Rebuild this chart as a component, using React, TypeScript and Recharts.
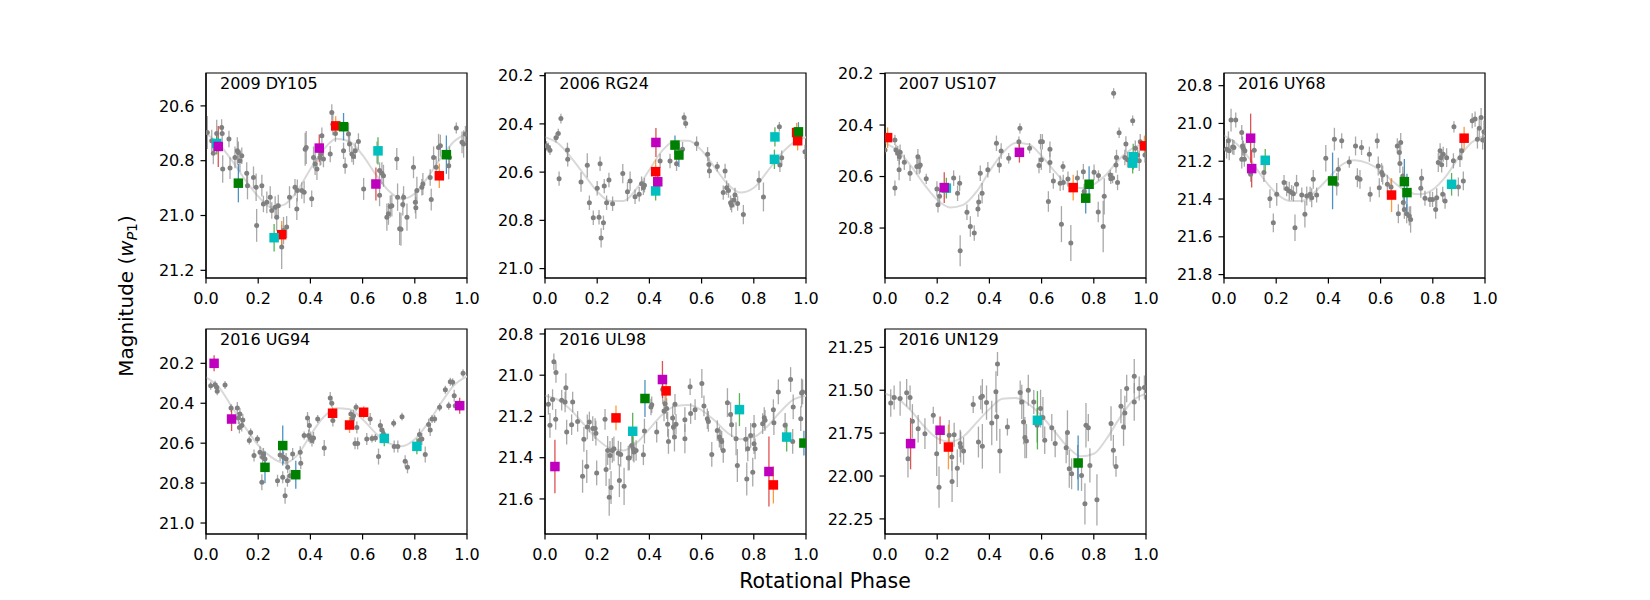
import React from 'react';
import { ComposedChart, Scatter, Line, XAxis, YAxis, ErrorBar, ReferenceArea } from 'recharts';

// [phase, magnitude, error]
type Pt = [number, number, number];
// [phase, magnitude]
type Cv = [number, number];

const PHASE_TICKS = [0, 0.2, 0.4, 0.6, 0.8, 1.0];

// ---------- 2009 DY105 ----------
const dy105Gray: Pt[] = [
  [0.005,20.697,0.06],[0.022,20.727,0.04],[0.028,20.773,0.04],[0.041,20.701,0.05],[0.060,20.679,0.03],[0.064,20.830,0.05],[0.062,20.701,0.03],[0.088,20.721,0.03],[0.092,20.827,0.04],[0.111,20.788,0.04],[0.120,20.764,0.05],[0.124,20.770,0.04],[0.130,20.800,0.04],[0.137,20.782,0.03],[0.156,20.846,0.04],[0.159,20.891,0.05],[0.182,20.861,0.04],[0.192,20.897,0.05],[0.194,21.036,0.06],[0.214,20.891,0.04],[0.220,20.958,0.03],[0.233,20.952,0.04],[0.246,20.933,0.04],[0.252,20.982,0.03],[0.265,20.970,0.04],[0.271,21.006,0.05],[0.277,20.964,0.04],[0.290,21.115,0.08],[0.297,21.055,0.05],[0.309,21.042,0.04],[0.320,20.933,0.04],[0.341,20.897,0.03],[0.348,20.976,0.04],[0.350,20.909,0.04],[0.367,20.909,0.03],[0.376,20.915,0.04],[0.380,20.758,0.06],[0.384,20.752,0.06],[0.405,20.939,0.03],[0.412,20.788,0.04],[0.418,20.812,0.04],[0.425,20.830,0.04],[0.437,20.788,0.03],[0.444,20.709,0.03],[0.440,20.776,0.04],[0.450,20.794,0.03],[0.476,20.776,0.03],[0.482,20.624,0.03],[0.486,20.667,0.04],[0.496,20.701,0.03],[0.527,20.764,0.03],[0.533,20.818,0.03],[0.546,20.703,0.04],[0.550,20.739,0.03],[0.559,20.776,0.03],[0.565,20.785,0.03],[0.572,20.764,0.03],[0.584,20.730,0.03],[0.604,20.903,0.04],[0.655,20.770,0.04],[0.665,20.836,0.03],[0.674,20.846,0.04],[0.665,20.926,0.04],[0.680,20.855,0.04],[0.693,21.006,0.05],[0.699,20.994,0.04],[0.706,20.967,0.04],[0.712,20.964,0.04],[0.731,20.794,0.04],[0.734,20.933,0.05],[0.742,21.048,0.06],[0.747,21.050,0.06],[0.754,20.960,0.04],[0.757,20.933,0.04],[0.770,21.006,0.05],[0.795,20.824,0.04],[0.802,20.952,0.04],[0.804,20.972,0.04],[0.808,20.909,0.05],[0.827,20.897,0.03],[0.831,20.885,0.04],[0.859,20.861,0.03],[0.863,20.942,0.04],[0.872,20.788,0.04],[0.882,20.824,0.04],[0.891,20.752,0.05],[0.898,20.745,0.04],[0.930,20.818,0.05],[0.933,20.788,0.04],[0.959,20.681,0.02],[0.981,20.733,0.04],[0.987,20.739,0.05],[0.994,20.703,0.03],
];
const dy105M: Pt[] = [[0.047,20.748,0.075],[0.434,20.754,0.05],[0.651,20.885,0.06]];
const dy105C: Pt[] = [[0.041,20.737,0.04],[0.261,21.081,0.05],[0.659,20.764,0.05]];
const dy105G: Pt[] = [[0.124,20.882,0.07],[0.527,20.676,0.05],[0.921,20.778,0.07]];
const dy105R: Pt[] = [[0.290,21.070,0.05],[0.497,20.673,0.035],[0.894,20.855,0.045]];
const dy105Fit: Cv[] = [[0,20.70],[0.05,20.74],[0.1,20.80],[0.15,20.87],[0.2,20.93],[0.25,20.97],[0.3,20.96],[0.35,20.91],[0.4,20.83],[0.45,20.76],[0.5,20.72],[0.55,20.73],[0.6,20.78],[0.65,20.85],[0.7,20.91],[0.75,20.94],[0.8,20.92],[0.85,20.86],[0.9,20.79],[0.95,20.73],[1.0,20.70]];

// ---------- 2006 RG24 ----------
const rg24Gray: Pt[] = [
  [0.006,20.491,0.02],[0.013,20.498,0.02],[0.019,20.509,0.02],[0.042,20.457,0.02],[0.051,20.440,0.02],[0.054,20.627,0.03],[0.061,20.378,0.02],[0.086,20.508,0.03],[0.087,20.547,0.03],[0.138,20.641,0.04],[0.162,20.572,0.05],[0.170,20.727,0.03],[0.185,20.789,0.03],[0.200,20.667,0.03],[0.207,20.787,0.03],[0.211,20.565,0.03],[0.215,20.873,0.04],[0.224,20.810,0.03],[0.227,20.658,0.03],[0.236,20.727,0.03],[0.245,20.633,0.03],[0.259,20.731,0.03],[0.298,20.606,0.04],[0.316,20.681,0.04],[0.326,20.637,0.04],[0.345,20.702,0.03],[0.361,20.692,0.03],[0.370,20.648,0.03],[0.377,20.665,0.03],[0.381,20.654,0.03],[0.441,20.554,0.03],[0.479,20.554,0.03],[0.504,20.565,0.03],[0.527,20.505,0.03],[0.533,20.373,0.02],[0.539,20.398,0.02],[0.581,20.482,0.03],[0.623,20.526,0.03],[0.628,20.568,0.03],[0.630,20.595,0.03],[0.660,20.577,0.02],[0.683,20.685,0.03],[0.690,20.595,0.03],[0.696,20.665,0.03],[0.703,20.676,0.03],[0.711,20.727,0.03],[0.715,20.737,0.03],[0.724,20.716,0.03],[0.728,20.695,0.03],[0.738,20.730,0.03],[0.760,20.776,0.04],[0.820,20.634,0.04],[0.837,20.703,0.06],[0.898,20.412,0.02],[0.900,20.570,0.03],[0.907,20.540,0.03],[0.996,20.516,0.03],
];
const rg24M: Pt[] = [[0.425,20.477,0.06],[0.432,20.640,0.05]];
const rg24C: Pt[] = [[0.424,20.678,0.04],[0.881,20.454,0.04],[0.879,20.547,0.04]];
const rg24G: Pt[] = [[0.498,20.488,0.04],[0.513,20.529,0.05],[0.971,20.433,0.04]];
const rg24R: Pt[] = [[0.424,20.598,0.05],[0.964,20.436,0.04],[0.968,20.470,0.04]];
const rg24Fit: Cv[] = [[0,20.455],[0.05,20.48],[0.1,20.54],[0.15,20.61],[0.2,20.68],[0.25,20.72],[0.3,20.72],[0.35,20.67],[0.4,20.59],[0.45,20.51],[0.5,20.47],[0.55,20.47],[0.6,20.51],[0.65,20.58],[0.7,20.65],[0.75,20.685],[0.8,20.665],[0.85,20.60],[0.9,20.53],[0.95,20.48],[1.0,20.455]];

// ---------- 2007 US107 ----------
const us107Gray: Pt[] = [
  [0.000,20.497,0.02],[0.038,20.458,0.02],[0.038,20.645,0.03],[0.042,20.497,0.02],[0.049,20.510,0.03],[0.054,20.574,0.04],[0.055,20.523,0.03],[0.058,20.506,0.03],[0.074,20.545,0.03],[0.096,20.587,0.03],[0.122,20.561,0.03],[0.126,20.523,0.03],[0.131,20.561,0.03],[0.135,20.555,0.03],[0.158,20.609,0.02],[0.199,20.648,0.03],[0.203,20.710,0.03],[0.209,20.677,0.03],[0.263,20.606,0.03],[0.278,20.665,0.03],[0.286,20.626,0.03],[0.288,20.888,0.06],[0.314,20.739,0.03],[0.327,20.794,0.04],[0.342,20.819,0.03],[0.356,20.726,0.03],[0.359,20.699,0.03],[0.365,20.587,0.03],[0.372,20.665,0.04],[0.394,20.574,0.03],[0.427,20.471,0.03],[0.438,20.555,0.03],[0.445,20.501,0.03],[0.474,20.529,0.02],[0.513,20.465,0.02],[0.517,20.413,0.02],[0.554,20.490,0.02],[0.590,20.557,0.03],[0.596,20.465,0.03],[0.603,20.465,0.03],[0.599,20.535,0.04],[0.632,20.494,0.03],[0.632,20.546,0.04],[0.626,20.697,0.04],[0.645,20.617,0.03],[0.671,20.626,0.03],[0.676,20.785,0.07],[0.682,20.561,0.02],[0.683,20.623,0.03],[0.701,20.610,0.03],[0.712,20.858,0.07],[0.737,20.606,0.03],[0.760,20.581,0.03],[0.763,20.658,0.03],[0.801,20.583,0.03],[0.817,20.738,0.04],[0.818,20.596,0.02],[0.836,20.794,0.10],[0.840,20.677,0.07],[0.863,20.594,0.02],[0.865,20.609,0.02],[0.872,20.606,0.02],[0.876,20.277,0.02],[0.885,20.555,0.03],[0.887,20.526,0.03],[0.891,20.623,0.03],[0.897,20.430,0.02],[0.919,20.526,0.03],[0.923,20.474,0.03],[0.929,20.535,0.03],[0.949,20.383,0.02],[0.959,20.490,0.03],[0.968,20.516,0.03],[0.974,20.539,0.04],[0.978,20.465,0.03],[0.996,20.516,0.03],
];
const us107M: Pt[] = [[0.227,20.643,0.06],[0.515,20.506,0.04]];
const us107C: Pt[] = [[0.235,20.645,0.04],[0.951,20.523,0.05],[0.949,20.548,0.04]];
const us107G: Pt[] = [[0.769,20.684,0.06],[0.782,20.630,0.07]];
const us107R: Pt[] = [[0.010,20.449,0.04],[0.721,20.643,0.05],[0.994,20.481,0.04]];
const us107Fit: Cv[] = [[0,20.47],[0.05,20.50],[0.1,20.56],[0.15,20.63],[0.2,20.69],[0.25,20.72],[0.3,20.71],[0.35,20.66],[0.4,20.58],[0.45,20.51],[0.5,20.47],[0.55,20.475],[0.6,20.52],[0.65,20.58],[0.7,20.63],[0.75,20.645],[0.8,20.63],[0.85,20.59],[0.9,20.53],[0.95,20.49],[1.0,20.47]];

// ---------- 2016 UY68 ----------
const uy68Gray: Pt[] = [
  [0.010,21.136,0.05],[0.017,21.092,0.05],[0.020,21.145,0.05],[0.027,20.982,0.06],[0.033,21.124,0.04],[0.038,21.127,0.04],[0.045,20.982,0.04],[0.068,21.048,0.04],[0.068,21.189,0.05],[0.071,21.119,0.05],[0.074,21.131,0.04],[0.080,21.145,0.04],[0.078,21.189,0.04],[0.102,21.269,0.04],[0.116,21.142,0.04],[0.153,21.260,0.05],[0.176,21.398,0.05],[0.189,21.526,0.05],[0.202,21.375,0.06],[0.230,21.313,0.04],[0.240,21.345,0.04],[0.250,21.358,0.05],[0.259,21.366,0.04],[0.266,21.372,0.04],[0.272,21.552,0.07],[0.278,21.322,0.05],[0.298,21.379,0.04],[0.310,21.481,0.07],[0.317,21.384,0.05],[0.330,21.375,0.04],[0.336,21.393,0.05],[0.342,21.296,0.05],[0.355,21.379,0.04],[0.390,21.184,0.07],[0.423,21.083,0.06],[0.432,21.322,0.06],[0.438,21.242,0.06],[0.451,21.092,0.04],[0.480,21.204,0.03],[0.504,21.119,0.05],[0.511,21.287,0.05],[0.521,21.296,0.05],[0.527,21.127,0.04],[0.557,21.163,0.04],[0.560,21.375,0.04],[0.587,21.092,0.04],[0.591,21.225,0.05],[0.595,21.340,0.05],[0.604,21.260,0.05],[0.608,21.273,0.05],[0.626,21.322,0.05],[0.640,21.336,0.04],[0.664,21.119,0.04],[0.672,21.154,0.05],[0.668,21.478,0.05],[0.674,21.212,0.05],[0.677,21.101,0.05],[0.685,21.278,0.05],[0.687,21.419,0.05],[0.691,21.455,0.05],[0.700,21.478,0.05],[0.710,21.490,0.05],[0.715,21.508,0.07],[0.754,21.343,0.05],[0.757,21.290,0.05],[0.770,21.396,0.04],[0.789,21.402,0.04],[0.799,21.402,0.04],[0.811,21.455,0.05],[0.815,21.393,0.05],[0.821,21.207,0.05],[0.828,21.145,0.04],[0.831,21.181,0.04],[0.834,21.219,0.04],[0.838,21.375,0.04],[0.847,21.411,0.04],[0.840,21.163,0.04],[0.853,21.181,0.05],[0.879,21.198,0.04],[0.881,21.018,0.03],[0.898,21.336,0.05],[0.904,21.181,0.05],[0.911,21.145,0.05],[0.917,21.304,0.05],[0.951,20.986,0.04],[0.962,20.977,0.04],[0.971,21.083,0.05],[0.978,21.025,0.05],[0.985,20.968,0.05],[0.991,21.088,0.05],[0.996,21.044,0.06],
];
const uy68M: Pt[] = [[0.102,21.078,0.13],[0.106,21.239,0.10]];
const uy68C: Pt[] = [[0.158,21.195,0.06],[0.872,21.322,0.06]];
const uy68G: Pt[] = [[0.416,21.304,0.15],[0.691,21.308,0.12],[0.701,21.366,0.10]];
const uy68R: Pt[] = [[0.642,21.379,0.09],[0.920,21.078,0.06]];
const uy68Fit: Cv[] = [[0,21.065],[0.05,21.11],[0.1,21.19],[0.15,21.29],[0.2,21.37],[0.25,21.41],[0.3,21.41],[0.35,21.36],[0.4,21.29],[0.45,21.22],[0.5,21.195],[0.55,21.21],[0.6,21.25],[0.65,21.31],[0.7,21.36],[0.75,21.375],[0.8,21.35],[0.85,21.28],[0.9,21.18],[0.95,21.10],[1.0,21.065]];

// ---------- 2016 UG94 ----------
const ug94Gray: Pt[] = [
  [0.018,20.312,0.02],[0.035,20.307,0.02],[0.041,20.320,0.02],[0.043,20.340,0.02],[0.073,20.309,0.02],[0.096,20.424,0.02],[0.120,20.424,0.03],[0.124,20.474,0.03],[0.128,20.521,0.03],[0.130,20.454,0.03],[0.137,20.512,0.03],[0.141,20.484,0.03],[0.166,20.587,0.02],[0.171,20.546,0.02],[0.184,20.662,0.03],[0.197,20.579,0.02],[0.207,20.646,0.03],[0.214,20.796,0.04],[0.217,20.671,0.03],[0.220,20.654,0.03],[0.226,20.679,0.03],[0.274,20.788,0.03],[0.284,20.659,0.03],[0.294,20.771,0.03],[0.297,20.671,0.03],[0.303,20.863,0.04],[0.307,20.679,0.03],[0.312,20.788,0.03],[0.313,20.721,0.03],[0.322,20.763,0.03],[0.332,20.654,0.03],[0.361,20.646,0.03],[0.363,20.701,0.03],[0.376,20.562,0.02],[0.389,20.474,0.03],[0.393,20.562,0.03],[0.396,20.512,0.03],[0.399,20.571,0.03],[0.406,20.587,0.03],[0.412,20.574,0.03],[0.428,20.479,0.02],[0.453,20.624,0.04],[0.476,20.374,0.03],[0.482,20.400,0.02],[0.486,20.487,0.03],[0.555,20.454,0.02],[0.561,20.479,0.03],[0.565,20.462,0.03],[0.571,20.601,0.03],[0.575,20.420,0.02],[0.581,20.601,0.03],[0.578,20.521,0.03],[0.629,20.479,0.03],[0.616,20.579,0.03],[0.636,20.576,0.02],[0.649,20.574,0.02],[0.661,20.667,0.04],[0.668,20.512,0.03],[0.674,20.534,0.03],[0.680,20.554,0.03],[0.719,20.500,0.02],[0.721,20.617,0.03],[0.735,20.617,0.03],[0.751,20.467,0.02],[0.763,20.691,0.03],[0.772,20.721,0.03],[0.818,20.587,0.03],[0.818,20.557,0.03],[0.827,20.579,0.03],[0.840,20.657,0.04],[0.853,20.507,0.03],[0.859,20.534,0.03],[0.866,20.479,0.02],[0.876,20.479,0.02],[0.895,20.420,0.02],[0.917,20.332,0.02],[0.930,20.412,0.02],[0.936,20.292,0.02],[0.945,20.295,0.02],[0.951,20.362,0.03],[0.955,20.412,0.02],[0.985,20.250,0.02],
];
const ug94M: Pt[] = [[0.031,20.200,0.04],[0.098,20.479,0.06],[0.972,20.412,0.04]];
const ug94C: Pt[] = [[0.683,20.576,0.04],[0.808,20.616,0.04]];
const ug94G: Pt[] = [[0.226,20.721,0.08],[0.294,20.612,0.10],[0.344,20.758,0.07]];
const ug94R: Pt[] = [[0.485,20.450,0.03],[0.550,20.509,0.04],[0.604,20.445,0.03]];
const ug94Fit: Cv[] = [[0,20.27],[0.05,20.32],[0.1,20.42],[0.15,20.52],[0.2,20.61],[0.25,20.67],[0.3,20.70],[0.35,20.66],[0.4,20.56],[0.45,20.47],[0.5,20.425],[0.55,20.43],[0.6,20.48],[0.65,20.55],[0.7,20.60],[0.75,20.615],[0.8,20.58],[0.85,20.50],[0.9,20.40],[0.95,20.31],[1.0,20.265]];

// ---------- 2016 UL98 ----------
const ul98Gray: Pt[] = [
  [0.013,21.141,0.05],[0.019,21.243,0.06],[0.029,21.118,0.05],[0.034,20.935,0.04],[0.042,20.987,0.05],[0.041,21.214,0.05],[0.064,21.121,0.05],[0.077,21.130,0.05],[0.080,21.061,0.07],[0.083,21.276,0.06],[0.102,21.240,0.05],[0.106,21.130,0.05],[0.125,21.224,0.05],[0.144,21.490,0.08],[0.149,21.311,0.06],[0.160,21.443,0.08],[0.162,21.251,0.06],[0.170,21.227,0.05],[0.183,21.259,0.06],[0.192,21.259,0.05],[0.195,21.281,0.06],[0.198,21.474,0.06],[0.230,21.214,0.05],[0.234,21.457,0.08],[0.240,21.365,0.07],[0.246,21.592,0.09],[0.249,21.389,0.07],[0.253,21.544,0.08],[0.258,21.365,0.06],[0.264,21.357,0.06],[0.281,21.378,0.06],[0.285,21.511,0.08],[0.290,21.384,0.06],[0.303,21.539,0.09],[0.319,21.402,0.06],[0.323,21.401,0.06],[0.332,21.341,0.06],[0.338,21.357,0.06],[0.341,21.373,0.05],[0.349,21.365,0.05],[0.377,21.386,0.05],[0.381,21.271,0.06],[0.406,21.154,0.04],[0.409,21.143,0.04],[0.428,21.276,0.05],[0.451,21.069,0.07],[0.456,21.173,0.05],[0.460,21.138,0.05],[0.466,21.162,0.05],[0.470,21.238,0.06],[0.473,21.321,0.06],[0.489,21.207,0.06],[0.492,21.251,0.06],[0.496,21.300,0.07],[0.498,21.141,0.05],[0.502,21.238,0.05],[0.536,21.216,0.06],[0.536,21.308,0.07],[0.556,21.056,0.04],[0.558,21.186,0.05],[0.575,21.167,0.05],[0.601,21.040,0.07],[0.609,21.149,0.05],[0.622,21.211,0.05],[0.626,21.224,0.05],[0.639,21.384,0.06],[0.660,21.268,0.05],[0.668,21.300,0.05],[0.673,21.313,0.05],[0.677,21.321,0.05],[0.683,21.365,0.06],[0.699,21.133,0.07],[0.711,21.191,0.06],[0.715,21.240,0.06],[0.732,21.308,0.08],[0.737,21.438,0.08],[0.769,21.311,0.06],[0.773,21.503,0.08],[0.777,21.357,0.06],[0.788,21.292,0.06],[0.796,21.470,0.07],[0.801,21.243,0.05],[0.801,21.332,0.05],[0.805,21.357,0.05],[0.834,21.235,0.05],[0.840,21.206,0.05],[0.843,21.219,0.05],[0.875,21.167,0.05],[0.877,21.230,0.06],[0.894,21.081,0.06],[0.920,21.243,0.06],[0.941,21.021,0.06],[0.951,21.154,0.06],[0.949,21.321,0.06],[0.980,21.211,0.06],[0.983,21.086,0.07],[0.987,21.081,0.06],
];
const ul98M: Pt[] = [[0.038,21.443,0.13],[0.450,21.021,0.09],[0.858,21.467,0.17]];
const ul98C: Pt[] = [[0.336,21.272,0.09],[0.745,21.167,0.08],[0.926,21.300,0.07]];
const ul98G: Pt[] = [[0.383,21.113,0.09],[0.992,21.329,0.06]];
const ul98R: Pt[] = [[0.272,21.207,0.06],[0.464,21.076,0.05],[0.875,21.532,0.09]];
const ul98Fit: Cv[] = [[0,21.10],[0.05,21.12],[0.1,21.17],[0.15,21.24],[0.2,21.31],[0.25,21.355],[0.3,21.365],[0.35,21.33],[0.4,21.26],[0.45,21.19],[0.5,21.15],[0.55,21.145],[0.6,21.17],[0.65,21.22],[0.7,21.28],[0.75,21.31],[0.8,21.30],[0.85,21.25],[0.9,21.18],[0.95,21.12],[1.0,21.10]];

// ---------- 2016 UN129 ----------
const un129Gray: Pt[] = [
  [0.022,21.574,0.08],[0.035,21.542,0.07],[0.058,21.548,0.10],[0.083,21.515,0.08],[0.088,21.899,0.11],[0.096,21.542,0.07],[0.105,21.681,0.10],[0.127,21.724,0.08],[0.153,21.753,0.09],[0.185,21.646,0.05],[0.198,21.870,0.13],[0.207,22.065,0.12],[0.246,21.763,0.09],[0.256,21.889,0.08],[0.257,22.032,0.12],[0.265,21.759,0.07],[0.277,21.954,0.11],[0.288,21.811,0.08],[0.290,21.831,0.09],[0.301,21.854,0.08],[0.338,21.583,0.05],[0.358,21.802,0.09],[0.367,21.542,0.07],[0.373,21.827,0.13],[0.373,21.535,0.10],[0.389,21.572,0.10],[0.409,21.691,0.13],[0.425,21.509,0.12],[0.428,21.655,0.14],[0.431,21.347,0.07],[0.440,21.854,0.13],[0.469,21.714,0.05],[0.518,21.513,0.07],[0.524,21.568,0.10],[0.531,21.685,0.13],[0.536,21.776,0.12],[0.542,21.796,0.10],[0.549,21.500,0.09],[0.570,21.568,0.07],[0.583,21.704,0.10],[0.596,21.607,0.11],[0.605,21.659,0.12],[0.612,21.792,0.08],[0.639,21.718,0.08],[0.652,21.811,0.08],[0.694,21.835,0.09],[0.699,21.747,0.13],[0.706,21.958,0.11],[0.715,21.987,0.09],[0.738,21.919,0.10],[0.753,21.997,0.09],[0.766,22.162,0.12],[0.770,21.704,0.13],[0.779,21.718,0.08],[0.785,21.938,0.10],[0.812,22.139,0.15],[0.866,21.694,0.10],[0.875,21.850,0.09],[0.885,21.944,0.06],[0.904,21.593,0.10],[0.914,21.714,0.11],[0.919,21.632,0.10],[0.926,21.490,0.08],[0.955,21.418,0.10],[0.955,21.568,0.11],[0.974,21.490,0.07],[0.994,21.484,0.07],
];
const un129M: Pt[] = [[0.098,21.811,0.15],[0.211,21.733,0.08]];
const un129C: Pt[] = [[0.584,21.675,0.17]];
const un129G: Pt[] = [[0.740,21.924,0.16]];
const un129R: Pt[] = [[0.243,21.831,0.13]];
const un129Fit: Cv[] = [[0,21.52],[0.05,21.55],[0.1,21.62],[0.15,21.71],[0.2,21.78],[0.25,21.80],[0.3,21.77],[0.35,21.69],[0.4,21.61],[0.45,21.55],[0.5,21.545],[0.55,21.58],[0.6,21.65],[0.65,21.74],[0.7,21.83],[0.75,21.885],[0.8,21.87],[0.85,21.78],[0.9,21.66],[0.95,21.56],[1.0,21.52]];

// Per-object axis settings
const names = ['2009 DY105', '2006 RG24', '2007 US107', '2016 UY68', '2016 UG94', '2016 UL98', '2016 UN129'];
const magDomains: [number, number][] = [
  [20.48, 21.228], [20.189, 21.039], [20.198, 20.994], [20.733, 21.818],
  [20.028, 21.055], [20.776, 21.77], [21.143, 22.338],
];
const magTicks: number[][] = [
  [20.6, 20.8, 21.0, 21.2],
  [20.2, 20.4, 20.6, 20.8, 21.0],
  [20.2, 20.4, 20.6, 20.8],
  [20.8, 21.0, 21.2, 21.4, 21.6, 21.8],
  [20.2, 20.4, 20.6, 20.8, 21.0],
  [20.8, 21.0, 21.2, 21.4, 21.6],
  [21.25, 21.5, 21.75, 22.0, 22.25],
];
const tickDigits = [1, 1, 1, 1, 1, 1, 2];
const grayPts = [dy105Gray, rg24Gray, us107Gray, uy68Gray, ug94Gray, ul98Gray, un129Gray];
const magentaPts = [dy105M, rg24M, us107M, uy68M, ug94M, ul98M, un129M];
const cyanPts = [dy105C, rg24C, us107C, uy68C, ug94C, ul98C, un129C];
const greenPts = [dy105G, rg24G, us107G, uy68G, ug94G, ul98G, un129G];
const redPts = [dy105R, rg24R, us107R, uy68R, ug94R, ul98R, un129R];
const fits = [dy105Fit, rg24Fit, us107Fit, uy68Fit, ug94Fit, ul98Fit, un129Fit];

// Grid placement (plot-area top-left corners, page pixels)
const PLOT_W = 261;
const PLOT_H = 205;
const COL_X = [206, 545.3, 884.7, 1224];
const ROW_Y = [72.5, 328.5];
const M_LEFT = 60;
const M_TOP = 10;
const X_AXIS_H = 40;
const M_RIGHT = 28;

const FONT = '"DejaVu Sans", Verdana, sans-serif';

const rows = (pts: Pt[]) => pts.map(([phase, mag, err]) => ({ phase, mag, err }));
const curveRows = (pts: Cv[]) => pts.map(([phase, mag]) => ({ phase, mag }));

const GrayDot = (props: any) => (
  <circle cx={props.cx} cy={props.cy} r={2.5} fill="#808080" />
);
const square = (fill: string) => (props: any) => (
  <rect x={props.cx - 4.75} y={props.cy - 4.75} width={9.5} height={9.5} fill={fill} />
);

const markerSets = [
  { key: 'r', fill: '#ff0000', bar: '#ff7f0e', pts: redPts },
  { key: 'g', fill: '#008000', bar: '#1f77b4', pts: greenPts },
  { key: 'c', fill: '#00bfbf', bar: '#2ca02c', pts: cyanPts },
  { key: 'm', fill: '#bf00bf', bar: '#d62728', pts: magentaPts },
];

function Panel({ i }: { i: number }) {
  const col = i < 4 ? i : i - 4;
  const row = i < 4 ? 0 : 1;
  const left = COL_X[col] - M_LEFT;
  const top = ROW_Y[row] - M_TOP;
  const dom = magDomains[i];
  const digits = tickDigits[i];
  return (
    <div style={{ position: 'absolute', left, top }}>
      <ComposedChart
        width={M_LEFT + PLOT_W + M_RIGHT}
        height={M_TOP + PLOT_H + X_AXIS_H}
        margin={{ top: M_TOP, right: M_RIGHT, bottom: 0, left: 0 }}
      >
        <XAxis
          type="number"
          dataKey="phase"
          domain={[0, 1]}
          ticks={PHASE_TICKS}
          allowDataOverflow
          interval={0}
          height={X_AXIS_H}
          stroke="#000"
          strokeWidth={1.2}
          tickSize={5.5}
          tickMargin={9}
          tick={{ fill: '#000', fontSize: 16, fontFamily: FONT }}
          tickFormatter={(v: number) => v.toFixed(1)}
        />
        <YAxis
          type="number"
          dataKey="mag"
          reversed
          domain={dom}
          ticks={magTicks[i]}
          allowDataOverflow
          interval={0}
          width={M_LEFT}
          stroke="#000"
          strokeWidth={1.2}
          tickSize={5.5}
          tickMargin={6}
          tick={{ fill: '#000', fontSize: 16, fontFamily: FONT }}
          tickFormatter={(v: number) => v.toFixed(digits)}
        />
        <ReferenceArea x1={0} x2={1} y1={dom[0]} y2={dom[1]} fill="none" stroke="#000" strokeWidth={1.2} fillOpacity={0} />
        <Line
          data={curveRows(fits[i])}
          dataKey="mag"
          type="monotone"
          stroke="#d9d9d9"
          strokeWidth={2}
          dot={false}
          activeDot={false}
          isAnimationActive={false}
        />
        <Scatter data={rows(grayPts[i])} shape={GrayDot} isAnimationActive={false}>
          <ErrorBar dataKey="err" direction="y" width={0} stroke="#8c8c8c" strokeOpacity={0.75} strokeWidth={1.3} />
        </Scatter>
        {markerSets.map((s) => (
          <Scatter key={s.key} data={rows(s.pts[i])} shape={square(s.fill)} isAnimationActive={false}>
            <ErrorBar dataKey="err" direction="y" width={0} stroke={s.bar} strokeOpacity={0.8} strokeWidth={1.3} />
          </Scatter>
        ))}
      </ComposedChart>
    </div>
  );
}

export default function App() {
  return (
    <div
      style={{
        position: 'absolute',
        left: 0,
        top: 0,
        width: 1650,
        height: 600,
        background: '#fff',
        fontFamily: FONT,
        overflow: 'hidden',
      }}
    >
      {names.map((_, i) => (
        <Panel key={i} i={i} />
      ))}
      <svg
        width={1650}
        height={600}
        style={{ position: 'absolute', left: 0, top: 0, pointerEvents: 'none' }}
        fontFamily={FONT}
      >
        {names.map((n, i) => {
          const col = i < 4 ? i : i - 4;
          const row = i < 4 ? 0 : 1;
          return (
            <text key={n} x={COL_X[col] + 14} y={ROW_Y[row] + 16} fontSize={16} fill="#000">
              {n}
            </text>
          );
        })}
        <text x={825} y={587.5} fontSize={20.5} textAnchor="middle" fill="#000">
          Rotational Phase
        </text>
        <text transform="translate(133,296) rotate(-90)" fontSize={20} textAnchor="middle" fill="#000">
          Magnitude (<tspan fontStyle="italic">w</tspan>
          <tspan fontStyle="italic" fontSize={14} dy={4}>P</tspan>
          <tspan fontSize={14}>1</tspan>
          <tspan dy={-4}>)</tspan>
        </text>
      </svg>
    </div>
  );
}
